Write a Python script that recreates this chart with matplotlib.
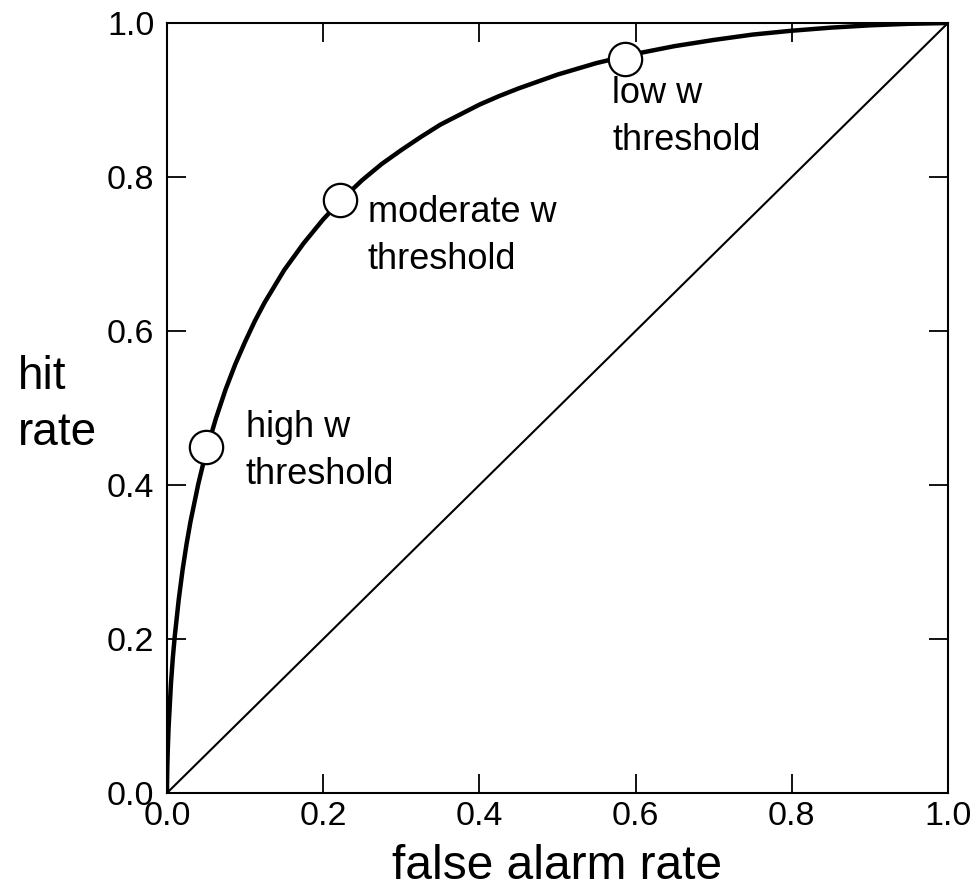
import matplotlib.pyplot as plt

plt.rcParams['font.family'] = ['Liberation Sans', 'DejaVu Sans']

# ROC curve (false alarm rate vs hit rate)
false_alarm = [0.0, 0.0001, 0.0003, 0.0005, 0.001, 0.002, 0.005, 0.0075, 0.01, 0.015,
               0.02, 0.025, 0.03, 0.04, 0.05, 0.0625, 0.075, 0.0875, 0.1, 0.1125,
               0.125, 0.1375, 0.15, 0.175, 0.2, 0.225, 0.25, 0.275, 0.3, 0.325,
               0.35, 0.375, 0.4, 0.425, 0.45, 0.5, 0.55, 0.6, 0.65, 0.7,
               0.75, 0.8, 0.85, 0.9, 0.95, 1.0]
hit = [0.0, 0.013, 0.027, 0.037, 0.056, 0.084, 0.141, 0.176, 0.204, 0.251,
       0.290, 0.323, 0.352, 0.401, 0.443, 0.486, 0.524, 0.557, 0.586, 0.613,
       0.637, 0.658, 0.679, 0.714, 0.745, 0.772, 0.796, 0.817, 0.835, 0.852,
       0.868, 0.881, 0.894, 0.905, 0.915, 0.933, 0.948, 0.960, 0.970, 0.978,
       0.985, 0.990, 0.994, 0.997, 0.999, 1.0]

# chance line
chance_x = [0.0, 1.0]
chance_y = [0.0, 1.0]

# threshold points
thr_fa = [0.05, 0.221, 0.586]
thr_hit = [0.449, 0.770, 0.953]
thr_labels = ['high w\nthreshold', 'moderate w\nthreshold', 'low w\nthreshold']
label_x = [0.101, 0.257, 0.570]
label_y = [0.498, 0.777, 0.931]

ticks = [0.0, 0.2, 0.4, 0.6, 0.8, 1.0]

fig = plt.figure(figsize=(9.8, 8.89), dpi=100)
ax = fig.add_axes([0.1704, 0.108, 0.7969, 0.8661])

ax.plot(chance_x, chance_y, color='black', lw=1.5, zorder=2)
ax.plot(false_alarm, hit, color='black', lw=3.2, zorder=3, solid_capstyle='butt',
        solid_joinstyle='round')
ax.plot(thr_fa, thr_hit, linestyle='none', marker='o', markersize=24,
        markerfacecolor='white', markeredgecolor='black', markeredgewidth=1.6, zorder=4)

for lx, ly, txt in zip(label_x, label_y, thr_labels):
    ax.text(lx, ly, txt, fontsize=26, ha='left', va='top', linespacing=1.45, zorder=5)

ax.set_xlim(0, 1)
ax.set_ylim(0, 1)
ax.set_xticks(ticks)
ax.set_yticks(ticks)
ax.set_xticklabels(['%.1f' % t for t in ticks])
ax.set_yticklabels(['%.1f' % t for t in ticks])

for s in ax.spines.values():
    s.set_linewidth(1.5)

ax.tick_params(direction='in', length=14, width=1.3, labelsize=24.5,
               top=True, right=True)
ax.tick_params(axis='x', pad=6)
ax.tick_params(axis='y', pad=9)

fig.text(18 / 980, 1 - 405 / 889, 'hit\nrate', fontsize=33, ha='left', va='center',
         linespacing=1.35)
fig.text((167 + 948) / 2 / 980, 10 / 889, 'false alarm rate', fontsize=34.5,
         ha='center', va='baseline')

fig.savefig('out.png', dpi=100)
